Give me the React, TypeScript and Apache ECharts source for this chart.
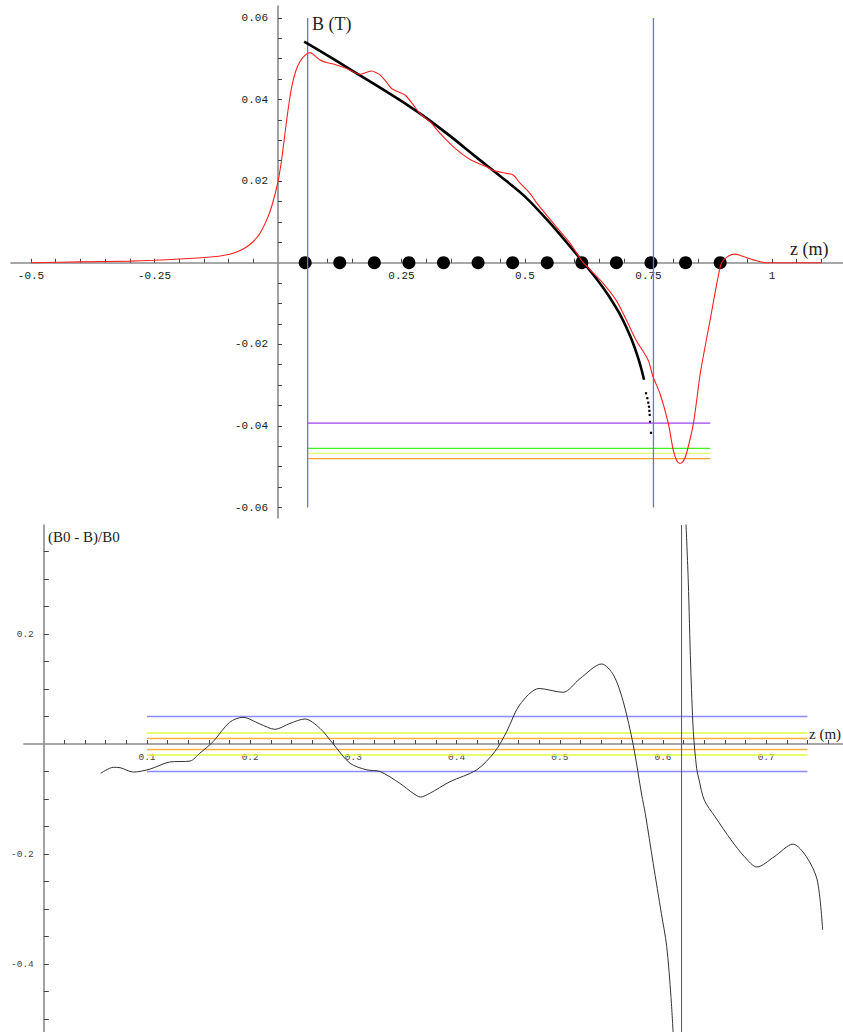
import React, { useEffect, useRef } from "react";
import * as echarts from "echarts";

// ---------- Top panel: B (T) vs z (m) ----------
const topXLabels = [-0.5, -0.25, 0.25, 0.5, 0.75, 1];
const topXTicks = [
  -0.5, -0.45, -0.4, -0.35, -0.3, -0.25, -0.2, -0.15, -0.1, -0.05, 0.05, 0.1, 0.15, 0.2, 0.25, 0.3,
  0.35, 0.4, 0.45, 0.5, 0.55, 0.6, 0.65, 0.7, 0.75, 0.8, 0.85, 0.9, 0.95, 1, 1.05, 1.1,
];
const topYLabels = [-0.06, -0.04, -0.02, 0.02, 0.04, 0.06];
const topYTicks = [
  -0.06, -0.055, -0.05, -0.045, -0.04, -0.035, -0.03, -0.025, -0.02, -0.015, -0.01, -0.005, 0.005,
  0.01, 0.015, 0.02, 0.025, 0.03, 0.035, 0.04, 0.045, 0.05, 0.055, 0.06,
];

// measured field (red)
const redZ = [
  -0.5, -0.4, -0.3, -0.25, -0.2, -0.156, -0.12, -0.1, -0.08, -0.063, -0.05, -0.036, -0.02, -0.01, 0,
  0.007, 0.0142, 0.021, 0.0277, 0.036, 0.0445, 0.055, 0.065, 0.075, 0.085, 0.1, 0.112, 0.139, 0.166,
  0.18, 0.19, 0.2, 0.207, 0.22, 0.23, 0.245, 0.257, 0.272, 0.287, 0.308, 0.328, 0.355, 0.389, 0.422,
  0.436, 0.463, 0.476, 0.49, 0.51, 0.524, 0.557, 0.591, 0.618, 0.652, 0.684, 0.705, 0.725, 0.749,
  0.759, 0.773, 0.79, 0.8, 0.807, 0.814, 0.821, 0.827, 0.841, 0.855, 0.876, 0.89, 0.898, 0.91, 0.925,
  0.94, 0.962, 0.989, 1.1,
];
const redB = [
  0, 0.0002, 0.0004, 0.0006, 0.0009, 0.0012, 0.0016, 0.002, 0.0028, 0.0039, 0.0052, 0.0073, 0.0113,
  0.015, 0.0199, 0.025, 0.0318, 0.038, 0.0431, 0.047, 0.0493, 0.0509, 0.0515, 0.0507, 0.0497, 0.049,
  0.0487, 0.0476, 0.0462, 0.0467, 0.047, 0.0465, 0.046, 0.0442, 0.0427, 0.0418, 0.0411, 0.039, 0.0366,
  0.0345, 0.0317, 0.0284, 0.0253, 0.0235, 0.0226, 0.0219, 0.0215, 0.0195, 0.017, 0.0146, 0.0097,
  0.0048, 0, -0.0042, -0.0091, -0.014, -0.019, -0.0238, -0.0279, -0.032, -0.0393, -0.0459, -0.0485,
  -0.0492, -0.0485, -0.0467, -0.0393, -0.027, -0.0132, -0.004, 0, 0.0015, 0.0021, 0.0016, 0.0007, 0,
  0,
];

// ideal field B0 (black, thick)
const b0Z = [
  0.053, 0.1, 0.15, 0.2, 0.25, 0.287, 0.3, 0.35, 0.4, 0.45, 0.5, 0.55, 0.6, 0.615, 0.645, 0.67,
  0.69, 0.705, 0.717, 0.727, 0.735, 0.741,
];
const b0B = [
  0.0542, 0.0508, 0.0471, 0.0434, 0.0396, 0.0366, 0.0355, 0.0309, 0.026, 0.0212, 0.0162, 0.0098,
  0.0027, 0.0005, -0.004, -0.0082, -0.0122, -0.0158, -0.0192, -0.0226, -0.0258, -0.0287,
];
const b0TailZ = [0.745, 0.7476, 0.7496, 0.751, 0.7517, 0.7524, 0.753, 0.755];
const b0TailB = [-0.032, -0.0332, -0.0343, -0.0353, -0.0363, -0.0373, -0.039, -0.0417];

// probe positions on the axis
const probeZ = [0.055, 0.125, 0.195, 0.265, 0.335, 0.405, 0.475, 0.545, 0.615, 0.685, 0.755, 0.825, 0.895];

// vertical markers and horizontal reference levels
const markerZ = [0.06, 0.76];
const markerSpan = [-0.06, 0.06];
const topLevels = [-0.0393, -0.0455, -0.0467, -0.048];
const topLevelColors = ["#a040f0", "#40f020", "#d8ff50", "#ffa030"];
const topLevelRange = [0.06, 0.875];

// ---------- Bottom panel: (B0 - B)/B0 vs z (m) ----------
const botXLabels = [0.1, 0.2, 0.3, 0.4, 0.5, 0.6, 0.7];
const botXTicks = [
  0.02, 0.04, 0.06, 0.08, 0.1, 0.12, 0.14, 0.16, 0.18, 0.2, 0.22, 0.24, 0.26, 0.28, 0.3, 0.32, 0.34,
  0.36, 0.38, 0.4, 0.42, 0.44, 0.46, 0.48, 0.5, 0.52, 0.54, 0.56, 0.58, 0.6, 0.62, 0.64, 0.66, 0.68,
  0.7, 0.72, 0.74, 0.76,
];
const botYLabels = [-0.4, -0.2, 0.2];
const botYTicks = [
  -0.5, -0.45, -0.4, -0.35, -0.3, -0.25, -0.2, -0.15, -0.1, -0.05, 0.05, 0.1, 0.15, 0.2, 0.25, 0.3,
  0.35,
];

const devZ1 = [
  0.0551, 0.0674, 0.0738, 0.0867, 0.103, 0.122, 0.1417, 0.151, 0.164, 0.18, 0.193, 0.2095, 0.224,
  0.2386, 0.253, 0.2676, 0.2805, 0.2967, 0.313, 0.3258, 0.345, 0.358, 0.365, 0.374, 0.3936, 0.4195,
  0.437, 0.4485, 0.461, 0.48, 0.503, 0.5196, 0.5406, 0.552, 0.5615, 0.5712, 0.5794, 0.5828, 0.5905,
  0.5984, 0.6036, 0.6077, 0.6098,
];
const devV1 = [
  -0.0533, -0.0424, -0.043, -0.051, -0.0455, -0.0327, -0.031, -0.017, 0.0042, 0.0394, 0.0485, 0.0364,
  0.0267, 0.0376, 0.0455, 0.0285, 0, -0.035, -0.047, -0.05, -0.0715, -0.0897, -0.0964, -0.0897,
  -0.0685, -0.047, -0.014, 0.0224, 0.0709, 0.101, 0.094, 0.119, 0.1455, 0.1255, 0.077, -0.002, -0.093,
  -0.126, -0.217, -0.308, -0.368, -0.459, -0.524,
];
const devZ2 = [
  0.6223, 0.6245, 0.6268, 0.6294, 0.6326, 0.635, 0.64, 0.6504, 0.666, 0.679, 0.691, 0.7077, 0.726,
  0.739, 0.7494, 0.7547,
];
const devV2 = [
  0.4, 0.295, 0.1436, 0.0224, -0.0442, -0.0655, -0.102, -0.132, -0.1745, -0.205, -0.2236, -0.205,
  -0.182, -0.205, -0.247, -0.338,
];
const asymptoteZ = 0.618;
const bandLevels = [0.05, 0.02, 0.01, -0.01, -0.02, -0.05];
const bandColors = ["#8c8cff", "#e2ff40", "#ffb040", "#ffb040", "#e2ff40", "#8c8cff"];
const bandRange = [0.1, 0.74];

const zip = (xs: number[], ys: number[]) => xs.map((x, i) => [x, ys[i]]);

export default function App() {
  const ref = useRef<HTMLDivElement>(null);
  useEffect(() => {
    if (!ref.current) return;
    const chart = echarts.init(ref.current, null, { renderer: "svg" });
    const TOP = [-0.5405, 1.1437, -0.06257, 0.06292];
    const BOT = [-0.01919, 0.77442, -0.5236, 0.3982];
    const G1 = { left: 11, top: 6, width: 832, height: 512 };
    const G2 = { left: 24, top: 525, width: 819, height: 507 };

    // offsets that place each axis at the other axis' zero
    const xOff = (g: any, r: number[]) => -g.height * (0 - r[2]) / (r[3] - r[2]);
    const yOff = (g: any, r: number[]) => -g.width * (0 - r[0]) / (r[1] - r[0]);

    const mkX = (grid: number, r: number[], off: number, ticks: number[], labels: number[], fs: number, col: string, tl: number, margin: number) => ({
      type: "value",
      gridIndex: grid,
      position: "bottom",
      offset: off,
      min: r[0],
      max: r[1],
      axisLine: { show: true, onZero: false, lineStyle: { color: "#8a8a8a", width: 1.6 } },
      axisTick: { show: true, inside: true, length: tl, customValues: ticks, lineStyle: { color: "#444", width: 1 } },
      axisLabel: { show: true, customValues: labels, margin, fontFamily: "Liberation Mono", fontSize: fs, color: col },
      splitLine: { show: false },
    });
    const mkY = (grid: number, r: number[], off: number, ticks: number[], labels: number[], fs: number, col: string, tl: number) => ({
      type: "value",
      gridIndex: grid,
      position: "left",
      offset: off,
      min: r[2],
      max: r[3],
      axisLine: { show: true, onZero: false, lineStyle: { color: "#8a8a8a", width: 1.6 } },
      axisTick: { show: true, inside: true, length: tl, customValues: ticks, lineStyle: { color: "#444", width: 1 } },
      axisLabel: { show: true, customValues: labels, margin: 10, fontFamily: "Liberation Mono", fontSize: fs, color: col },
      splitLine: { show: false },
    });

    const series: any[] = [];
    topLevels.forEach((lv, i) => {
      series.push({
        type: "line", xAxisIndex: 0, yAxisIndex: 0, symbol: "none", silent: true,
        data: [[topLevelRange[0], lv], [topLevelRange[1], lv]],
        lineStyle: { color: topLevelColors[i], width: 1.2 },
      });
    });
    markerZ.forEach((z) => {
      series.push({
        type: "line", xAxisIndex: 0, yAxisIndex: 0, symbol: "none", silent: true,
        data: [[z, markerSpan[0]], [z, markerSpan[1]]],
        lineStyle: { color: "#6c6cff", width: 1.3 },
      });
    });
    series.push({
      type: "line", xAxisIndex: 0, yAxisIndex: 0, symbol: "none", smooth: 0.3,
      data: zip(b0Z, b0B), lineStyle: { color: "#000", width: 2.6 },
    });
    series.push({
      type: "scatter", xAxisIndex: 0, yAxisIndex: 0, symbol: "rect", symbolSize: 2.2,
      data: zip(b0TailZ, b0TailB), itemStyle: { color: "#000", opacity: 1 },
    });
    series.push({
      type: "scatter", xAxisIndex: 0, yAxisIndex: 0, symbol: "circle", symbolSize: 13,
      data: probeZ.map((z) => [z, 0]), itemStyle: { color: "#000", opacity: 1 },
    });
    series.push({
      type: "line", xAxisIndex: 0, yAxisIndex: 0, symbol: "none", smooth: 0.3,
      data: zip(redZ, redB), lineStyle: { color: "#ff2020", width: 1.1 },
    });

    bandLevels.forEach((lv, i) => {
      series.push({
        type: "line", xAxisIndex: 1, yAxisIndex: 1, symbol: "none", silent: true,
        data: [[bandRange[0], lv], [bandRange[1], lv]],
        lineStyle: { color: bandColors[i], width: 1.4 },
      });
    });
    series.push({
      type: "line", xAxisIndex: 1, yAxisIndex: 1, symbol: "none", silent: true,
      data: [[asymptoteZ, BOT[2]], [asymptoteZ, BOT[3]]],
      lineStyle: { color: "#555", width: 1 },
    });
    series.push({
      type: "line", xAxisIndex: 1, yAxisIndex: 1, symbol: "none", smooth: 0.3,
      data: zip(devZ1, devV1), lineStyle: { color: "#333", width: 1 },
    });
    series.push({
      type: "line", xAxisIndex: 1, yAxisIndex: 1, symbol: "none", smooth: 0.3,
      data: zip(devZ2, devV2), lineStyle: { color: "#333", width: 1 },
    });

    chart.setOption({
      animation: false,
      backgroundColor: "#fff",
      grid: [
        { ...G1, containLabel: false, outerBoundsMode: "none" },
        { ...G2, containLabel: false, outerBoundsMode: "none" },
      ],
      xAxis: [
        mkX(0, TOP, xOff(G1, TOP), topXTicks, topXLabels, 11, "#222", 4, 8),
        mkX(1, BOT, xOff(G2, BOT), botXTicks, botXLabels, 9.5, "#444", 4, 8),
      ],
      yAxis: [
        mkY(0, TOP, yOff(G1, TOP), topYTicks, topYLabels, 11, "#222", 4),
        mkY(1, BOT, yOff(G2, BOT), botYTicks, botYLabels, 9.5, "#444", 5),
      ],
      series,
      graphic: [
        { type: "text", left: 312, top: 15, style: { text: "B (T)", font: "18px 'Liberation Serif'", fill: "#222" } },
        { type: "text", left: 790, top: 240, style: { text: "z (m)", font: "18px 'Liberation Serif'", fill: "#222" } },
        { type: "text", left: 48, top: 529, style: { text: "(B0 - B)/B0", font: "15px 'Liberation Serif'", fill: "#222" } },
        { type: "text", left: 809, top: 726, style: { text: "z (m)", font: "15px 'Liberation Serif'", fill: "#222" } },
      ],
    });
    return () => chart.dispose();
  }, []);
  return <div ref={ref} style={{ position: "absolute", left: 0, top: 0, width: 843, height: 1032 }} />;
}
